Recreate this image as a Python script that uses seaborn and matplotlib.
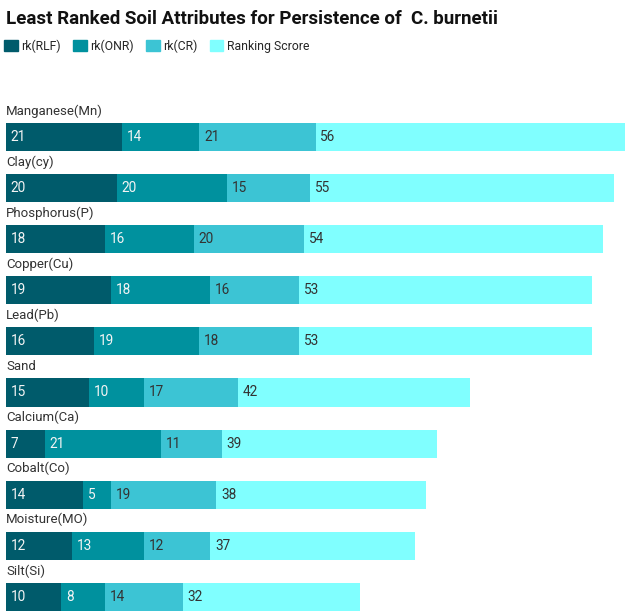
import numpy as np
import pandas as pd
import matplotlib
matplotlib.use("Agg")
import matplotlib.pyplot as plt
import seaborn as sns

attributes = ["Manganese(Mn)", "Clay(cy)", "Phosphorus(P)", "Copper(Cu)", "Lead(Pb)",
              "Sand", "Calcium(Ca)", "Cobalt(Co)", "Moisture(MO)", "Silt(Si)"]
rk_rlf = [21, 20, 18, 19, 16, 15, 7, 14, 12, 10]
rk_onr = [14, 20, 16, 18, 19, 10, 21, 5, 13, 8]
rk_cr = [21, 15, 20, 16, 18, 17, 11, 19, 12, 14]
ranking_score = [56, 55, 54, 53, 53, 42, 39, 38, 37, 32]

series_names = ["rk(RLF)", "rk(ONR)", "rk(CR)", "Ranking Scrore"]
colors = ["#005b6b", "#00919e", "#3cc4d4", "#80ffff"]
text_colors = ["#f4f4f4", "#f4f4f4", "#333333", "#333333"]

sns.set_style("white")
plt.rcParams["font.family"] = ["Roboto", "DejaVu Sans"]

fig = plt.figure(figsize=(6.29, 6.16), dpi=100)
ax = fig.add_axes([6 / 629, 0, 619 / 629, 516 / 616])

vals = np.array([rk_rlf, rk_onr, rk_cr, ranking_score])
cum = vals.cumsum(axis=0)
df = pd.DataFrame({"attr": attributes})

# draw cumulative totals from longest to shortest so they stack
for k in range(3, -1, -1):
    df["v"] = cum[k]
    sns.barplot(data=df, x="v", y="attr", orient="h", color=colors[k],
                saturation=1, width=0.55, ax=ax, linewidth=0)

for i, name in enumerate(attributes):
    ax.text(0, i - 0.51, name, va="center", ha="left", fontsize=9.5, color="#333333")
    left = 0
    for k in range(4):
        ax.annotate(str(vals[k][i]), (left, i), xytext=(3.5, 0), textcoords="offset points",
                    va="center", ha="left", fontsize=9.8, color=text_colors[k])
        left += vals[k][i]

ax.set_xlim(0, 112)
ax.set_ylim(9.374, -0.724)
ax.axis("off")

fig.text(6 / 629, 1 - 19 / 616, "Least Ranked Soil Attributes for Persistence of  C. burnetii",
         fontsize=13.5, fontweight="bold", va="center", ha="left", color="#111111")

# legend
handles = [plt.Rectangle((0, 0), 1, 1, color=c) for c in colors]
fig.legend(handles, series_names, loc="center left", bbox_to_anchor=(0.003, 1 - 46 / 616),
           ncol=4, frameon=False, fontsize=8.8, handlelength=1.1, handleheight=1.1,
           handletextpad=0.3, columnspacing=1.0, borderaxespad=0, borderpad=0.2)

fig.savefig("out.png", dpi=100)
